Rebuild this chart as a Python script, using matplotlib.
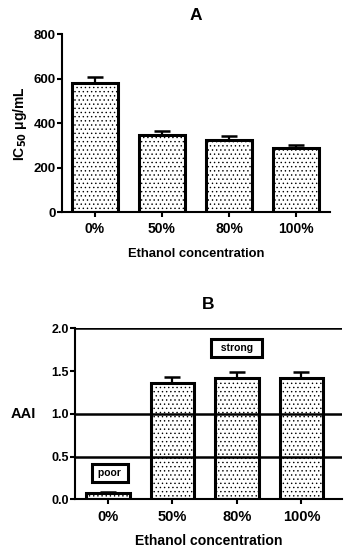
import numpy as np
import matplotlib
matplotlib.use("Agg")
import matplotlib.pyplot as plt

plt.rcParams["font.family"] = ["Liberation Sans", "DejaVu Sans"]
plt.rcParams["font.weight"] = "bold"
plt.rcParams["hatch.linewidth"] = 0.5
plt.rcParams["hatch.color"] = "#666666"

categories = ["0%", "50%", "80%", "100%"]
ic50_values = [578, 346, 324, 286]
ic50_errors = [27, 18, 18, 14]
aai_values = [0.077, 1.364, 1.415, 1.415]
aai_errors = [0.012, 0.07, 0.075, 0.075]
aai_lines = [0.5, 1.0, 2.0]

x = np.arange(len(categories))

fig = plt.figure(figsize=(3.49, 5.5), dpi=100)

# Panel A
ax1 = fig.add_axes([0.178, 0.6145, 0.768, 0.3235])
ax1.bar(x, ic50_values, width=0.69, color="white", edgecolor="black",
        linewidth=2.2, hatch="....", zorder=2)
ax1.errorbar(x, ic50_values, yerr=[[0] * 4, ic50_errors], fmt="none",
             ecolor="black", elinewidth=1.6, capsize=6, capthick=1.8, zorder=1)
ax1.set_xlim(-0.49, 3.51)
ax1.set_ylim(0, 800)
ax1.set_yticks([0, 200, 400, 600, 800])
ax1.set_xticks(x)
ax1.set_xticklabels(categories)
ax1.spines["top"].set_visible(False)
ax1.spines["right"].set_visible(False)
for s in ["left", "bottom"]:
    ax1.spines[s].set_linewidth(1.5)
ax1.tick_params(width=1.5, length=3.5)
ax1.tick_params(axis="x", labelsize=10, pad=4)
ax1.tick_params(axis="y", labelsize=9.5, pad=1)
ax1.set_title("A", fontsize=12.5, fontweight="bold", pad=10)
ax1.set_ylabel("IC$_{50}$ $\\mathregular{\\mu}$g/mL", fontsize=10, fontweight="bold", labelpad=3)
ax1.set_xlabel("Ethanol concentration", fontsize=9.4, fontweight="bold", labelpad=8)

# Panel B
ax2 = fig.add_axes([0.215, 0.092, 0.765, 0.311])
ax2.bar(x, aai_values, width=0.67, color="white", edgecolor="black",
        linewidth=2.2, hatch="....", zorder=2)
ax2.errorbar(x, aai_values, yerr=[[0] * 4, aai_errors], fmt="none",
             ecolor="black", elinewidth=1.6, capsize=6, capthick=1.8, zorder=1)
for v in aai_lines:
    ax2.axhline(v, color="black", linewidth=1.8, zorder=3)
ax2.set_xlim(-0.51, 3.63)
ax2.set_ylim(0, 2.0)
ax2.set_yticks([0.0, 0.5, 1.0, 1.5, 2.0])
ax2.set_yticklabels(["0.0", "0.5", "1.0", "1.5", "2.0"])
ax2.set_xticks(x)
ax2.set_xticklabels(categories)
ax2.spines["top"].set_visible(False)
ax2.spines["right"].set_visible(False)
for s in ["left", "bottom"]:
    ax2.spines[s].set_linewidth(1.5)
ax2.tick_params(width=1.5, length=3.5)
ax2.tick_params(axis="x", labelsize=10.5, pad=4)
ax2.tick_params(axis="y", labelsize=9, pad=1)
ax2.set_title("B", fontsize=12.5, fontweight="bold", pad=14)
ax2.set_ylabel("AAI", fontsize=10.5, fontweight="bold", rotation=0, labelpad=20, va="center")
ax2.set_xlabel("Ethanol concentration", fontsize=10.1, fontweight="bold", labelpad=7)

box = dict(boxstyle="square,pad=0.35", facecolor="white", edgecolor="black", linewidth=2.2)
ax2.text(0.03, 0.31, " poor ", fontsize=7.5, fontweight="bold", ha="center", va="center",
         bbox=box, zorder=4)
ax2.text(2.0, 1.77, "  strong  ", fontsize=7.5, fontweight="bold", ha="center", va="center",
         bbox=box, zorder=4)

fig.savefig("out.png", dpi=100)
